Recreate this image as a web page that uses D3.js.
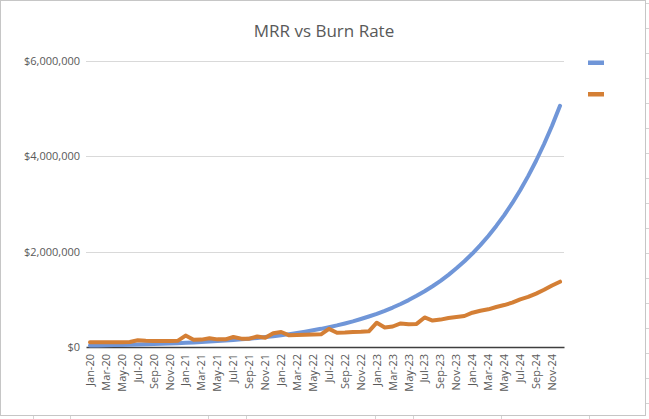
<!DOCTYPE html>
<html>
<head>
<meta charset="utf-8">
<script src="https://cdn.jsdelivr.net/npm/d3@7"></script>
<style>
  body { margin: 0; background: #ffffff; }
  text { font-family: 'Open Sans', sans-serif; fill: #595959; }
</style>
</head>
<body>
<div id="svg-area"></div>
<script>
// chart data
var months = [
  'Jan-20', 'Feb-20', 'Mar-20', 'Apr-20', 'May-20', 'Jun-20', 'Jul-20', 'Aug-20', 'Sep-20', 'Oct-20', 'Nov-20', 'Dec-20',
  'Jan-21', 'Feb-21', 'Mar-21', 'Apr-21', 'May-21', 'Jun-21', 'Jul-21', 'Aug-21', 'Sep-21', 'Oct-21', 'Nov-21', 'Dec-21',
  'Jan-22', 'Feb-22', 'Mar-22', 'Apr-22', 'May-22', 'Jun-22', 'Jul-22', 'Aug-22', 'Sep-22', 'Oct-22', 'Nov-22', 'Dec-22',
  'Jan-23', 'Feb-23', 'Mar-23', 'Apr-23', 'May-23', 'Jun-23', 'Jul-23', 'Aug-23', 'Sep-23', 'Oct-23', 'Nov-23', 'Dec-23',
  'Jan-24', 'Feb-24', 'Mar-24', 'Apr-24', 'May-24', 'Jun-24', 'Jul-24', 'Aug-24', 'Sep-24', 'Oct-24', 'Nov-24', 'Dec-24'
];

var mrr = [
  31000, 34000, 37000, 40000, 44000, 48000, 52000, 57000, 62000, 68000, 74000, 81000,
  88000, 96000, 105000, 114000, 124000, 135000, 148000, 161000, 175000, 191000, 208000, 227000,
  248000, 270000, 294000, 321000, 350000, 381000, 416000, 453000, 494000, 538000, 587000, 640000,
  697000, 760000, 828000, 903000, 984000, 1073000, 1169000, 1275000, 1389000, 1514000, 1651000, 1799000,
  1961000, 2137000, 2330000, 2540000, 2768000, 3017000, 3289000, 3585000, 3907000, 4259000, 4642000, 5060000
];

var burn = [
  100000, 100000, 100000, 100000, 100000, 105000, 140000, 130000, 125000, 125000, 128000, 130000,
  240000, 150000, 155000, 185000, 160000, 160000, 210000, 175000, 175000, 220000, 195000, 290000,
  315000, 245000, 250000, 255000, 260000, 265000, 380000, 300000, 305000, 315000, 320000, 330000,
  510000, 410000, 430000, 495000, 475000, 485000, 620000, 555000, 575000, 610000, 630000, 650000,
  720000, 760000, 790000, 840000, 880000, 930000, 1000000, 1050000, 1120000, 1200000, 1290000, 1370000
];

var y_ticks = [0, 2000000, 4000000, 6000000];
var chart_title = 'MRR vs Burn Rate';

var svg_width = 649,
    svg_height = 419;

var plot_left = 86,
    plot_right = 564,
    plot_top = 61,
    plot_bottom = 347;

var series_colors = ['#7096d8', '#d47f35'];

var svg = d3.select('#svg-area')
  .append('svg')
  .attr('width', svg_width)
  .attr('height', svg_height);

// outer chart frame and sheet cell marks
svg.append('rect')
  .attr('x', 0.5)
  .attr('y', 0.5)
  .attr('width', 645)
  .attr('height', 415)
  .attr('fill', '#ffffff')
  .attr('stroke', '#c6c6c6');

var sheet_cols = [33, 70, 208, 246, 375, 413, 501, 589];
svg.append('g').selectAll('line')
  .data(sheet_cols)
  .enter()
  .append('line')
  .attr('x1', d => d + 0.5).attr('x2', d => d + 0.5)
  .attr('y1', 416).attr('y2', 419)
  .attr('stroke', '#d4d4d4');

var sheet_rows = d3.range(3, 415, 25);
svg.append('g').selectAll('line')
  .data(sheet_rows)
  .enter()
  .append('line')
  .attr('x1', 646).attr('x2', 649)
  .attr('y1', d => d + 0.5).attr('y2', d => d + 0.5)
  .attr('stroke', '#d4d4d4');

var x = d3.scaleBand()
  .domain(months)
  .range([plot_left, plot_right]);

var y = d3.scaleLinear()
  .domain([0, 6000000])
  .range([plot_bottom, plot_top]);

// title
svg.append('text')
  .attr('x', 324)
  .attr('y', 37)
  .attr('text-anchor', 'middle')
  .attr('font-size', '17px')
  .text(chart_title);

// gridlines
svg.append('g')
  .attr('class', 'grid')
  .selectAll('line')
  .data(y_ticks.filter(d => d > 0))
  .enter()
  .append('line')
  .attr('x1', plot_left)
  .attr('x2', plot_right)
  .attr('y1', d => Math.round(y(d)) + 0.5)
  .attr('y2', d => Math.round(y(d)) + 0.5)
  .attr('stroke', '#d9d9d9')
  .attr('stroke-width', 1);

// y axis
var y_axis = d3.axisLeft(y)
  .tickValues(y_ticks)
  .tickSize(0)
  .tickPadding(6)
  .tickFormat(d => '$' + d3.format(',')(d));

svg.append('g')
  .attr('class', 'y_axis')
  .attr('transform', 'translate(' + plot_left + ', 0)')
  .call(y_axis)
  .call(g => g.select('.domain').remove())
  .selectAll('text')
  .attr('font-size', '11px')
  .attr('font-family', null);

// x axis
var x_axis = d3.axisBottom(x)
  .tickValues(months.filter((d, i) => i % 2 == 0))
  .tickSize(0)
  .tickSizeOuter(0)
  .tickPadding(0);

var x_g = svg.append('g')
  .attr('class', 'x_axis')
  .attr('transform', 'translate(0, ' + plot_bottom + ')')
  .call(x_axis);

x_g.select('.domain')
  .attr('stroke', '#3f3f3f')
  .attr('stroke-width', 1.5);

x_g.selectAll('text')
  .attr('font-size', '11px')
  .attr('font-family', null)
  .attr('text-anchor', 'end')
  .attr('transform', 'rotate(-90)')
  .attr('x', -7)
  .attr('y', 0)
  .attr('dy', '0.35em');

// series lines
var line = d3.line()
  .x((d, i) => x(months[i]) + x.bandwidth() / 2)
  .y(d => y(d));

svg.append('g')
  .attr('class', 'lines')
  .selectAll('path')
  .data([mrr, burn])
  .enter()
  .append('path')
  .attr('d', d => line(d))
  .attr('fill', 'none')
  .attr('stroke', (d, i) => series_colors[i])
  .attr('stroke-width', 4)
  .attr('stroke-linejoin', 'round')
  .attr('stroke-linecap', 'round');

// legend (no labels in the original)
svg.append('g')
  .attr('class', 'legend')
  .selectAll('rect')
  .data(series_colors)
  .enter()
  .append('rect')
  .attr('x', 588)
  .attr('y', (d, i) => 60.5 + i * 31.5)
  .attr('width', 16)
  .attr('height', 4.5)
  .attr('fill', d => d);
</script>
</body>
</html>
